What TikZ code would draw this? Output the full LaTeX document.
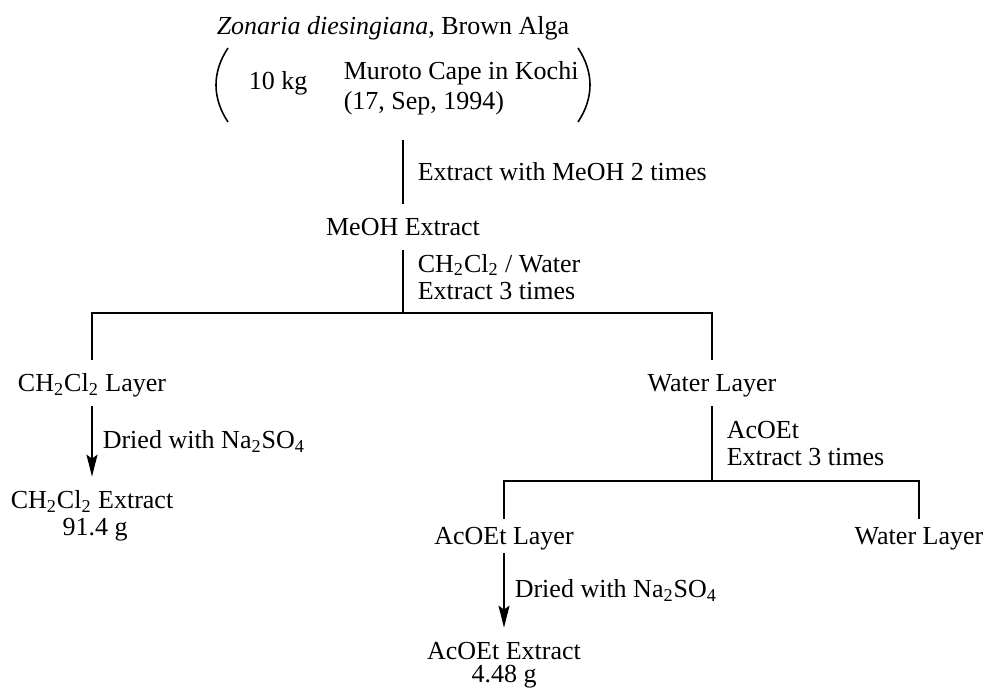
\documentclass[tikz,border=0pt]{standalone}
\usepackage{fontspec}
\setmainfont{Liberation Serif}
\usetikzlibrary{arrows.meta}

\begin{document}
\fontsize{13}{13.5}\selectfont
\begin{tikzpicture}[x=0.5pt,y=-0.5pt,line width=0.8pt,
		>={Stealth[length=11pt,width=5.5pt,inset=2pt]},
		main node/.style={text height=0.66em,text depth=0pt,inner xsep=0pt,inner ysep=7pt},
		sub node/.style={main node,inner ysep=4pt},
		step label/.style={right,align=left,inner xsep=7pt}]
	\useasboundingbox (0,0) rectangle (987,690);
	%
	% Starting material.
	\node (alga) at (393,28) {\textit{Zonaria diesingiana}, Brown Alga};
	\node (amount) at (278,83) {10 kg};
	\node[align=left,anchor=west,inner sep=0pt] (site) at (343,88)
		{Muroto Cape in Kochi\\[1.5pt](17, Sep, 1994)};
	\draw (228,48) .. controls (212,72) and (212,98) .. (228,122);
	\draw (578,48) .. controls (594,72) and (594,98) .. (578,122);
	%
	% MeOH extraction.
	\coordinate (start) at (403,140);
	\node[main node] (meoh) at (403,227) {MeOH Extract};
	\path (start) edge node[step label] {Extract with MeOH 2 times} (meoh);
	%
	% First partition.
	\coordinate (split1) at (403,313);
	\node[main node] (dcmlayer) at (92,383) {CH\textsubscript{2}Cl\textsubscript{2} Layer};
	\node[main node] (waterlayer) at (712,383) {Water Layer};
	\draw (meoh) -- node[step label,pos=0.42]
		{CH\textsubscript{2}Cl\textsubscript{2} / Water\\Extract 3 times} (split1);
	\draw (dcmlayer.north) |- (split1) -| (waterlayer.north);
	%
	% CH2Cl2 extract.
	\node[main node] (dcmextract) at (92,500) {CH\textsubscript{2}Cl\textsubscript{2} Extract};
	\node (dcmweight) at (95,530) {91.4 g};
	\draw[->] (dcmlayer) -- node[step label,inner xsep=5pt]
		{Dried with Na\textsubscript{2}SO\textsubscript{4}} (dcmextract);
	%
	% Second partition.
	\coordinate (split2) at (712,481);
	\node[sub node] (etlayer) at (504,536) {AcOEt Layer};
	\node[sub node] (waterlayer2) at (919,536) {Water Layer};
	\draw (waterlayer) -- node[step label] {AcOEt\\Extract 3 times} (split2);
	\draw (etlayer.north) |- (split2) -| (waterlayer2.north);
	%
	% AcOEt extract.
	\node[main node] (etextract) at (504,651) {AcOEt Extract};
	\node (etweight) at (504,677) {4.48 g};
	\draw[->] (etlayer) -- node[step label,inner xsep=5pt]
		{Dried with Na\textsubscript{2}SO\textsubscript{4}} (etextract);
\end{tikzpicture}
\end{document}
